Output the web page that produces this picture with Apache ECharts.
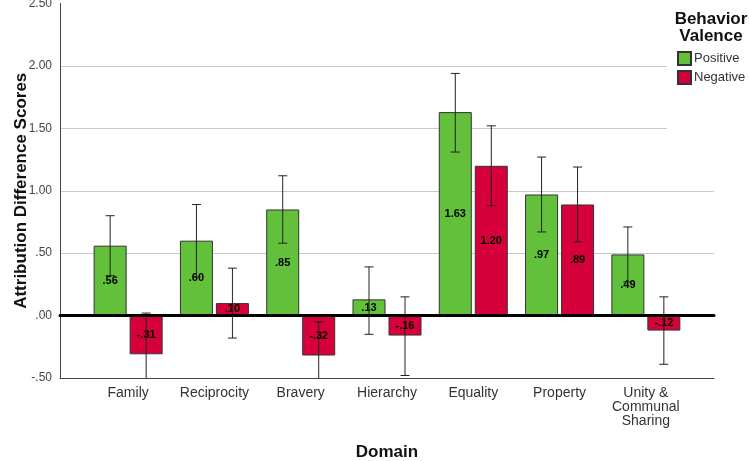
<!DOCTYPE html>
<html>
<head>
<meta charset="utf-8">
<script src="https://cdn.jsdelivr.net/npm/echarts@6/dist/echarts.min.js"></script>
<style>
  html, body { margin: 0; padding: 0; background: #fff; }
  #chart { width: 749px; height: 461px; }
</style>
</head>
<body>
<div id="chart"></div>
<script>
// domains on the x axis
const categories = ['Family', 'Reciprocity', 'Bravery', 'Hierarchy', 'Equality', 'Property', 'Unity &\nCommunal\nSharing']

// mean attribution difference scores
const positiveMeans = [0.56, 0.60, 0.85, 0.13, 1.63, 0.97, 0.49]
const negativeMeans = [-0.31, 0.10, -0.32, -0.16, 1.20, 0.89, -0.12]

// error bar ends
const positiveLow = [0.32, 0.31, 0.58, -0.15, 1.31, 0.67, 0.27]
const positiveHigh = [0.80, 0.89, 1.12, 0.39, 1.94, 1.27, 0.71]
const negativeLow = [-0.64, -0.18, -0.59, -0.48, 0.88, 0.59, -0.39]
const negativeHigh = [0.02, 0.38, -0.05, 0.15, 1.52, 1.19, 0.15]

const yMin = -0.5
const yMax = 2.5
const yStep = 0.5

const GREEN = '#62c03a'
const RED = '#d6003a'
const BAR_W = 33
const BAR_SPACE = 3

const fmt = v => v.toFixed(2).replace(/^(-?)0\./, '$1.')

const chart = echarts.init(document.getElementById('chart'))

const errorRenderer = (offset) => (params, api) => {
  const cat = api.value(0)
  const rawLo = api.value(1)
  const rawHi = api.value(2)
  const lo = Math.max(rawLo, yMin)
  const hi = Math.min(rawHi, yMax)
  const pLo = api.coord([cat, lo])
  const pHi = api.coord([cat, hi])
  const x = pLo[0] + offset
  const style = { stroke: '#222', lineWidth: 1 }
  const children = [
    { type: 'line', shape: { x1: x, y1: pLo[1], x2: x, y2: pHi[1] }, style }
  ]
  if (rawLo >= yMin) {
    children.push({ type: 'line', shape: { x1: x - 4.5, y1: pLo[1], x2: x + 4.5, y2: pLo[1] }, style })
  }
  if (rawHi <= yMax) {
    children.push({ type: 'line', shape: { x1: x - 4.5, y1: pHi[1], x2: x + 4.5, y2: pHi[1] }, style })
  }
  return { type: 'group', children }
}

const barLabel = {
  show: true,
  position: 'inside',
  color: '#000',
  fontSize: 11,
  fontWeight: 'bold',
  fontFamily: 'Liberation Sans',
  formatter: p => fmt(p.value)
}

const half = (BAR_W + BAR_SPACE) / 2

chart.setOption({
  animation: false,
  textStyle: { fontFamily: 'Liberation Sans' },
  graphic: [
    // white box behind the legend, the gridlines stop at it
    { type: 'rect', x: 667, y: 0, shape: { width: 82, height: 140 }, style: { fill: '#fff' }, z: 1 },
    {
      type: 'text', x: 711, y: 11, z: 5,
      style: {
        text: 'Behavior\nValence', fill: '#111', font: 'bold 17px Liberation Sans',
        lineHeight: 17, align: 'center', verticalAlign: 'top'
      }
    }
  ],
  legend: {
    orient: 'vertical',
    left: 677,
    top: 51,
    padding: 0,
    itemWidth: 13,
    itemHeight: 13,
    itemGap: 4,
    z: 5,
    icon: 'rect',
    textStyle: { fontSize: 13, color: '#333', padding: [0, 0, 0, -2] },
    data: ['Positive', 'Negative']
  },
  grid: [
    { left: 60, right: 35, top: 3.5, bottom: 83, outerBoundsMode: 'none' },
    { left: 85, right: 60, top: 3.5, bottom: 83, outerBoundsMode: 'none' }
  ],
  xAxis: [
    {
      gridIndex: 0, type: 'value', min: 0, max: 1, position: 'bottom',
      axisLine: { show: true, onZero: false, lineStyle: { color: '#444', width: 1 } },
      axisTick: { show: false }, axisLabel: { show: false }, splitLine: { show: false }
    },
    {
      gridIndex: 0, type: 'value', min: 0, max: 1, position: 'top', z: 10,
      axisLine: { show: true, onZero: true, lineStyle: { color: '#000', width: 3 } },
      axisTick: { show: false }, axisLabel: { show: false }, splitLine: { show: false }
    },
    {
      gridIndex: 1, type: 'category', data: categories,
      axisLine: { show: false }, axisTick: { show: false },
      axisLabel: { interval: 0, color: '#333', fontSize: 14, margin: 8, lineHeight: 14 },
      name: 'Domain', nameLocation: 'middle', nameGap: 66, nameMoveOverlap: false,
      nameTextStyle: { fontSize: 17, fontWeight: 'bold', color: '#111' }
    }
  ],
  yAxis: [
    {
      gridIndex: 0, type: 'value', min: yMin, max: yMax, interval: yStep,
      axisLine: { show: true, lineStyle: { color: '#444', width: 1 } },
      axisTick: { show: false },
      axisLabel: { color: '#444', fontSize: 12, margin: 8, formatter: fmt },
      splitLine: { showMaxLine: false, lineStyle: { color: '#c9c9c9', width: 1 } },
      name: 'Attribution Difference Scores', nameLocation: 'middle', nameGap: 30,
      nameMoveOverlap: false,
      nameTextStyle: { fontSize: 17, fontWeight: 'bold', color: '#111' }
    },
    {
      gridIndex: 1, type: 'value', min: yMin, max: yMax, interval: yStep, show: false
    }
  ],
  series: [
    {
      name: 'Positive', type: 'bar', xAxisIndex: 2, yAxisIndex: 1,
      barWidth: BAR_W, barGap: (BAR_SPACE / BAR_W * 100) + '%', z: 2,
      itemStyle: { color: GREEN, borderColor: '#333', borderWidth: 1 },
      label: barLabel,
      data: positiveMeans
    },
    {
      name: 'Negative', type: 'bar', xAxisIndex: 2, yAxisIndex: 1,
      barWidth: BAR_W, z: 2,
      itemStyle: { color: RED, borderColor: '#333', borderWidth: 1 },
      label: barLabel,
      data: negativeMeans
    },
    {
      type: 'custom', xAxisIndex: 2, yAxisIndex: 1, z: 3, silent: true,
      renderItem: errorRenderer(-half),
      data: positiveLow.map((lo, i) => [i, lo, positiveHigh[i]])
    },
    {
      type: 'custom', xAxisIndex: 2, yAxisIndex: 1, z: 3, silent: true,
      renderItem: errorRenderer(half),
      data: negativeLow.map((lo, i) => [i, lo, negativeHigh[i]])
    }
  ]
})
</script>
</body>
</html>
